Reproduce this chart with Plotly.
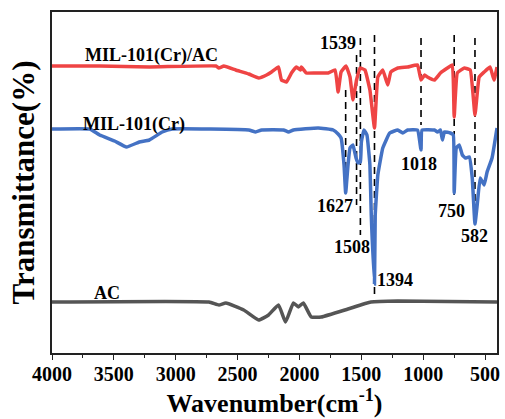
import plotly.graph_objects as go

# ---- data (wavenumber in cm-1, transmittance in arbitrary offset units) ----
comp_wn = [4000, 3615, 3213, 2675, 2651, 2611, 2515, 2410, 2330, 2266, 2226, 2170, 2146, 2105,
           2065, 2025, 1993, 1985, 1945, 1873, 1768, 1712, 1688, 1664, 1624, 1592, 1568, 1539,
           1511, 1471, 1431, 1394, 1367, 1327, 1287, 1262, 1206, 1126, 1046, 1018, 989, 966,
           909, 861, 805, 765, 750, 725, 668, 620, 582, 548, 508, 460, 428, 404]
comp_t = [287, 287, 286, 287, 285, 287, 283, 279, 275, 278, 281, 286, 273, 271,
          280, 286, 283, 286, 280, 280, 280, 283, 261, 281, 287, 276, 253, 273,
          285, 283, 263, 225, 276, 283, 268, 281, 285, 286, 288, 273, 278, 276,
          273, 280, 285, 288, 236, 280, 285, 283, 238, 276, 281, 286, 273, 286]

mil_wn = [4000, 3695, 3615, 3494, 3398, 3294, 3213, 3109, 3029, 2410, 2354, 2306, 2129, 2089,
          2049, 1849, 1728, 1688, 1664, 1640, 1627, 1608, 1592, 1568, 1543, 1527, 1508, 1500,
          1479, 1455, 1431, 1420, 1394, 1388, 1367, 1327, 1271, 1206, 1166, 1126, 1046, 1018,
          1010, 909, 885, 861, 845, 829, 781, 757, 750, 733, 709, 684, 660, 628, 604, 582,
          564, 540, 508, 484, 444, 404]
mil_t = [224, 224, 218, 212, 206, 211, 213, 221, 224, 223, 221, 223, 223, 221,
         223, 225, 223, 219, 215, 188, 160, 188, 205, 208, 195, 190, 191, 211,
         223, 218, 188, 138, 69, 138, 178, 205, 220, 223, 220, 223, 223, 203,
         223, 223, 221, 223, 213, 221, 220, 218, 160, 205, 208, 198, 195, 196, 175, 129,
         148, 175, 168, 181, 195, 225]

ac_wn = [4000, 2732, 2651, 2595, 2451, 2330, 2250, 2170, 2113, 2049, 2009, 1969, 1905, 1824,
         1608, 1423, 1206, 404]
ac_t = [51, 51, 48, 50, 43, 33, 38, 48, 31, 50, 46, 50, 36, 36, 44, 51, 52, 51]

# peak markers: wavenumber, dashed-line span, label position
peak_wn = [1627, 1539, 1508, 1394, 1018, 750, 582]
peak_top = [263, 298, 315, 318, 315, 318, 315]
peak_bot = [158, 148, 118, 58, 228, 158, 138]
peak_labels = ["1627", "1539", "1508", "1394", "1018", "750", "582"]
label_wn = [1712, 1688, 1576, 1230, 1038, 773, 588]
label_t = [147, 310, 106, 73, 189, 142, 117]

series_names = ["MIL-101(Cr)/AC", "MIL-101(Cr)", "AC"]
series_label_wn = [3197, 3334, 3558]
series_label_t = [298, 229, 60]

FONT = "Liberation Serif"

fig = go.Figure()

for w, t0, t1 in zip(peak_wn, peak_top, peak_bot):
    fig.add_trace(go.Scatter(x=[w, w], y=[t0, t1], mode="lines",
                             line=dict(color="black", width=1.6, dash="7px,5px"),
                             showlegend=False, hoverinfo="skip"))

fig.add_trace(go.Scatter(x=ac_wn, y=ac_t, mode="lines", name="AC",
                         line=dict(color="#555555", width=3.5, shape="spline", smoothing=0.4)))
fig.add_trace(go.Scatter(x=mil_wn, y=mil_t, mode="lines", name="MIL-101(Cr)",
                         line=dict(color="#4472C4", width=3.5, shape="spline", smoothing=0.3)))
fig.add_trace(go.Scatter(x=comp_wn, y=comp_t, mode="lines", name="MIL-101(Cr)/AC",
                         line=dict(color="#EF4444", width=3.5, shape="spline", smoothing=0.3)))

annotations = []
for txt, w, t in zip(peak_labels, label_wn, label_t):
    annotations.append(dict(x=w, y=t, text=f"<b>{txt}</b>", showarrow=False,
                            xanchor="center", yanchor="middle",
                            font=dict(family=FONT, size=18, color="black")))
for txt, w, t in zip(series_names, series_label_wn, series_label_t):
    annotations.append(dict(x=w, y=t, text=f"<b>{txt}</b>", showarrow=False,
                            xanchor="center", yanchor="middle",
                            font=dict(family=FONT, size=18, color="black")))

fig.update_layout(
    width=505, height=419,
    margin=dict(l=52, r=5, t=12, b=66),
    plot_bgcolor="white", paper_bgcolor="white",
    showlegend=False,
    annotations=annotations,
    xaxis=dict(
        range=[4000, 404], autorange=False,
        tickmode="array", tickvals=[4000, 3500, 3000, 2500, 2000, 1500, 1000, 500],
        ticktext=["<b>4000</b>", "<b>3500</b>", "<b>3000</b>", "<b>2500</b>", "<b>2000</b>",
                  "<b>1500</b>", "<b>1000</b>", "<b>500</b>"],
        ticks="outside", ticklen=5, tickwidth=1.3, tickcolor="#222222",
        ticklabelstandoff=-3,
        minor=dict(dtick=250, tick0=0, ticks="outside", ticklen=3, tickwidth=1.2, tickcolor="#222222"),
        tickfont=dict(family=FONT, size=20, color="black"),
        showline=True, linecolor="#222222", linewidth=1.5, mirror=True,
        showgrid=False, zeroline=False,
        title=dict(text="<b>Wavenumber(cm<sup>-1</sup>)</b>",
                   font=dict(family=FONT, size=26, color="black"), standoff=8),
    ),
    yaxis=dict(
        range=[0, 341], autorange=False,
        showticklabels=False, ticks="",
        showline=True, linecolor="#222222", linewidth=1.5, mirror=True,
        showgrid=False, zeroline=False,
        title=dict(text="<b>Transmittance(%)</b>",
                   font=dict(family=FONT, size=31, color="black"), standoff=6),
    ),
)

fig.write_html("out.html")
